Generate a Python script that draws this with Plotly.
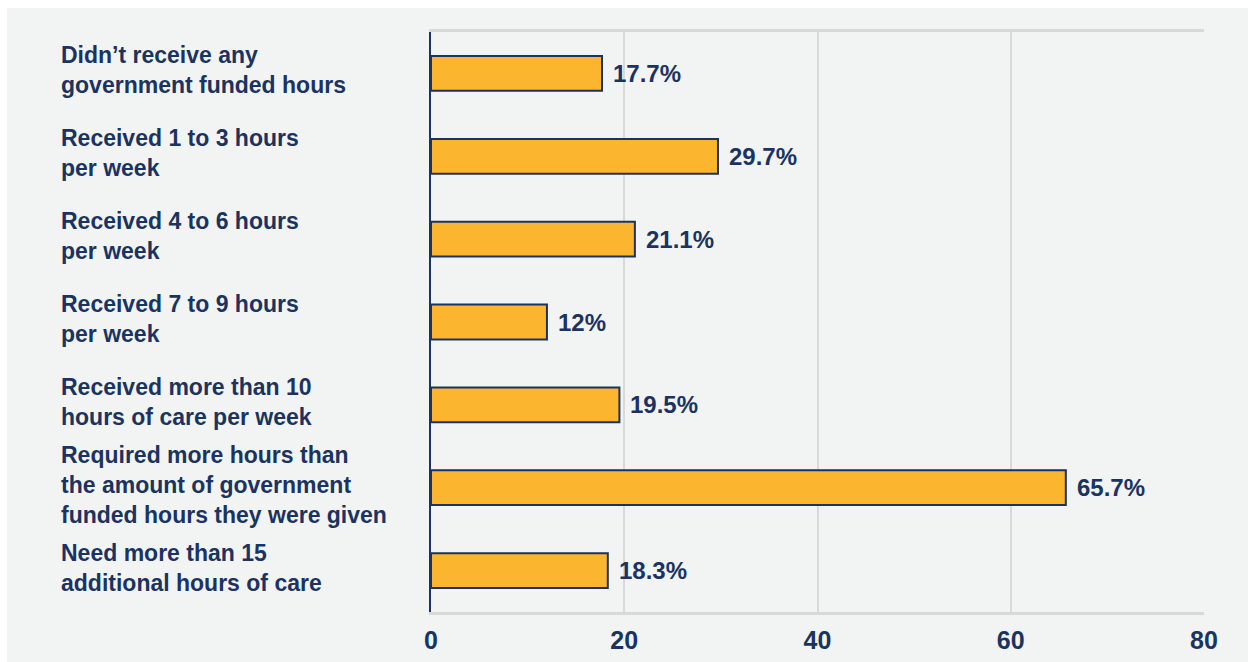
import plotly.graph_objects as go

categories = [
    "Didn’t receive any<br>government funded hours",
    "Received 1 to 3 hours<br>per week",
    "Received 4 to 6 hours<br>per week",
    "Received 7 to 9 hours<br>per week",
    "Received more than 10<br>hours of care per week",
    "Required more hours than<br>the amount of government<br>funded hours they were given",
    "Need more than 15<br>additional hours of care",
]
values = [17.7, 29.7, 21.1, 12, 19.5, 65.7, 18.3]
value_labels = ["17.7%", "29.7%", "21.1%", "12%", "19.5%", "65.7%", "18.3%"]
x_ticks = [0, 20, 40, 60, 80]

NAVY = "#1b3360"
BAR = "#fbb52f"
GRID = "#d8dada"
BG = "#f2f3f3"
FONT = "Liberation Sans, Arial, sans-serif"

W, H = 1248, 662
L, R, T, B = 431, 44, 32, 50
pw, ph = W - L - R, H - T - B

fig = go.Figure()
fig.add_trace(go.Bar(
    x=values, y=categories, orientation="h",
    marker=dict(color=BAR, line=dict(color=NAVY, width=2)),
    width=0.42, hoverinfo="skip",
))

annotations = []
for c, v, t in zip(categories, values, value_labels):
    annotations.append(dict(
        x=v, y=c, xref="x", yref="y", text="<b>" + t + "</b>",
        showarrow=False, xanchor="left", xshift=9,
        font=dict(family=FONT, size=24, color=NAVY),
    ))
    annotations.append(dict(
        x=(59 - L) / pw, y=c, xref="paper", yref="y",
        text="<b>" + c + "</b>", showarrow=False,
        xanchor="left", align="left", yshift=3,
        font=dict(family=FONT, size=23, color=NAVY),
    ))

shapes = [dict(
    type="rect", xref="paper", yref="paper", layer="below",
    x0=(7 - L) / pw, x1=1.2, y0=-0.3, y1=(H - B - 8) / ph,
    fillcolor=BG, line=dict(width=0),
)]

fig.update_layout(
    width=W, height=H,
    margin=dict(l=L, r=R, t=T, b=B, pad=0),
    paper_bgcolor="white",
    plot_bgcolor="rgba(0,0,0,0)",
    showlegend=False,
    annotations=annotations,
    shapes=shapes,
    xaxis=dict(
        range=[0, 80], tickvals=x_ticks,
        ticktext=["<b>%d</b>" % v for v in x_ticks],
        showgrid=True, gridcolor=GRID, gridwidth=2,
        zeroline=False, showline=True, linecolor=GRID, linewidth=3,
        mirror=True, ticks="", ticklabelstandoff=4,
        tickfont=dict(family=FONT, size=25, color=NAVY),
        fixedrange=True, automargin=False,
    ),
    yaxis=dict(
        categoryorder="array", categoryarray=categories,
        autorange="reversed", showticklabels=False, ticks="",
        showgrid=False, zeroline=False,
        showline=True, linecolor=NAVY, linewidth=2,
        fixedrange=True, automargin=False,
    ),
)

fig.write_html("out.html")
